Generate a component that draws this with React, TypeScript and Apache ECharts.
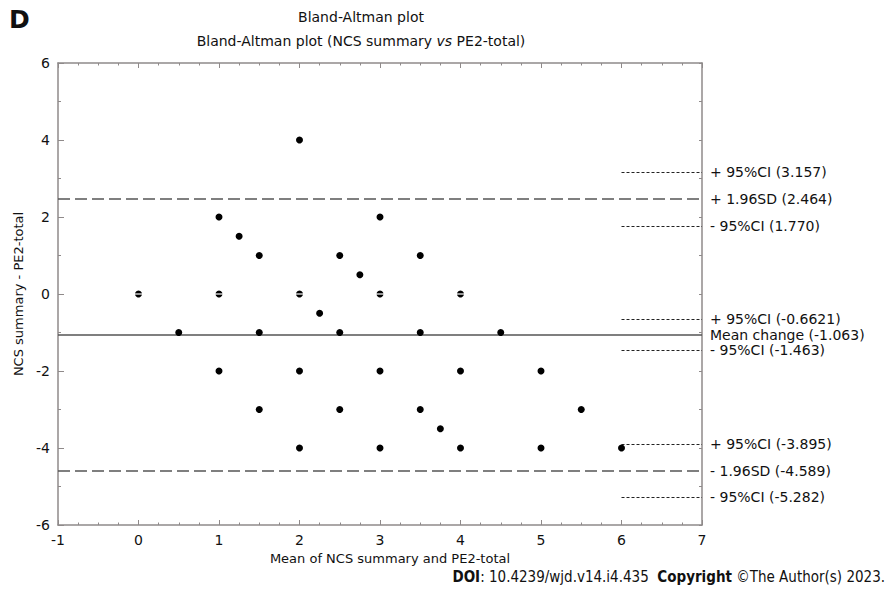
import React, { useEffect, useRef } from "react";
import * as echarts from "echarts";

// Mean of the two measures (x) and their difference (y)
const meanValues = [0, 0.5, 1, 1, 1, 1.25, 1.5, 1.5, 1.5, 2, 2, 2, 2, 2.25, 2.5, 2.5, 2.5, 2.75, 3, 3, 3, 3, 3.5, 3.5, 3.5, 3.75, 4, 4, 4, 4.5, 5, 5, 5.5, 6];
const diffValues = [0, -1, 2, 0, -2, 1.5, 1, -1, -3, 4, 0, -2, -4, -0.5, 1, -1, -3, 0.5, 2, 0, -2, -4, 1, -1, -3, -3.5, 0, -2, -4, -1, -2, -4, -3, -4];

const meanChange = -1.063;
const limitValues = [2.464, -4.589];
const limitLabels = ["+ 1.96SD (2.464)", "- 1.96SD (-4.589)"];
const ciValues = [3.157, 1.77, -0.6621, -1.463, -3.895, -5.282];
const ciLabels = ["+ 95%CI (3.157)", "- 95%CI (1.770)", "+ 95%CI (-0.6621)", "- 95%CI (-1.463)", "+ 95%CI (-3.895)", "- 95%CI (-5.282)"];
const meanLabel = "Mean change (-1.063)";

const xTicks = { min: -1, max: 7, interval: 1 };
const yTicks = { min: -6, max: 6, interval: 2 };

const FONT = "Tahoma, 'DejaVu Sans', sans-serif";
const AXIS_COLOR = "#8f8a8a";

export default function App() {
  const ref = useRef<HTMLDivElement>(null);
  useEffect(() => {
    if (!ref.current) return;
    const chart = echarts.init(ref.current, undefined, { renderer: "svg" });
    const points = meanValues.map((m, i) => [m, diffValues[i]]);
    const zeroPoints = points.filter((p) => p[1] === 0);
    const lblStyle = { color: "#111", fontFamily: FONT, fontSize: 14, position: "end" as const, distance: 8, padding: [0, 0, 5, 0] };

    const ciLines = ciValues.map((v, i) => [
      { coord: [6, v], label: { ...lblStyle, formatter: ciLabels[i] } },
      { coord: [7, v] },
    ]);
    const limitLines = limitValues.map((v, i) => [
      { coord: [xTicks.min, v], label: { ...lblStyle, formatter: limitLabels[i] } },
      { coord: [xTicks.max, v] },
    ]);

    const axisLine = { show: true, onZero: false, lineStyle: { color: AXIS_COLOR, width: 1.5 } };

    chart.setOption({
      animation: false,
      grid: { left: 58, right: 183, top: 63, bottom: 66 },
      xAxis: [
        {
          type: "value",
          min: xTicks.min,
          max: xTicks.max,
          interval: xTicks.interval,
          position: "bottom",
          name: "Mean of NCS summary and PE2-total",
          nameLocation: "middle",
          nameGap: 24,
          nameTextStyle: { color: "#111", fontFamily: FONT, fontSize: 13, padding: [0, 0, 0, 20] },
          axisLine,
          axisTick: { show: true, inside: true, length: 5, lineStyle: { color: AXIS_COLOR } },
          minorTick: { show: true, splitNumber: 4, length: 2.5, lineStyle: { color: AXIS_COLOR } },
          axisLabel: { color: "#111", fontFamily: FONT, fontSize: 14, margin: 8 },
          splitLine: { show: false },
          minorSplitLine: { show: false },
        },
        {
          type: "value",
          min: xTicks.min,
          max: xTicks.max,
          interval: xTicks.interval,
          position: "top",
          axisLine,
          axisTick: { show: true, inside: true, length: 5, lineStyle: { color: AXIS_COLOR } },
          minorTick: { show: true, splitNumber: 4, length: 2.5, lineStyle: { color: AXIS_COLOR } },
          axisLabel: { show: false },
          splitLine: { show: false },
        },
      ],
      yAxis: [
        {
          type: "value",
          min: yTicks.min,
          max: yTicks.max,
          interval: yTicks.interval,
          position: "left",
          name: "NCS summary - PE2-total",
          nameLocation: "middle",
          nameGap: 32,
          nameTextStyle: { color: "#111", fontFamily: FONT, fontSize: 13 },
          axisLine,
          axisTick: { show: true, inside: true, length: 6, lineStyle: { color: AXIS_COLOR } },
          minorTick: { show: true, splitNumber: 2, length: 3, lineStyle: { color: AXIS_COLOR } },
          axisLabel: { color: "#111", fontFamily: FONT, fontSize: 14, margin: 8 },
          splitLine: { show: false },
        },
        {
          type: "value",
          min: yTicks.min,
          max: yTicks.max,
          interval: yTicks.interval,
          position: "right",
          axisLine,
          axisTick: { show: true, inside: true, length: 3, lineStyle: { color: AXIS_COLOR } },
          minorTick: { show: true, splitNumber: 2, length: 3, lineStyle: { color: AXIS_COLOR } },
          axisLabel: { show: false },
          splitLine: { show: false },
        },
      ],
      series: [
        {
          type: "scatter",
          data: points,
          symbol: "circle",
          symbolSize: 7,
          itemStyle: { color: "#000", opacity: 1 },
          z: 5,
          markLine: {
            silent: true,
            symbol: "none",
            data: [
              ...limitLines,
              [
                { coord: [xTicks.min, meanChange], label: { ...lblStyle, formatter: meanLabel, padding: [0, 0, 8, 0] } },
                { coord: [xTicks.max, meanChange], lineStyle: { type: "solid" } },
              ],
            ],
            lineStyle: { color: "#555", width: 1.6, type: [12, 5] },
          },
        },
        {
          type: "scatter",
          data: zeroPoints,
          symbol: "rect",
          symbolSize: [8, 1.2],
          itemStyle: { color: "#fff", opacity: 1 },
          z: 6,
          markLine: {
            silent: true,
            symbol: "none",
            data: ciLines,
            lineStyle: { color: "#222", width: 1, type: [3, 2] },
          },
        },
      ],
      graphic: [
        { type: "text", left: 9, top: 7, style: { text: "D", font: "bold 25px 'DejaVu Sans', sans-serif", fill: "#111" } },
        { type: "text", x: 361, y: 17, style: { text: "Bland-Altman plot", font: `14px ${FONT}`, fill: "#111", textAlign: "center", textVerticalAlign: "middle" } },
        {
          type: "text",
          x: 361,
          y: 41,
          style: {
            text: "{n|Bland-Altman plot (NCS summary }{i|vs}{n| PE2-total)}",
            textAlign: "center",
            textVerticalAlign: "middle",
            fill: "#111",
            rich: {
              n: { fontFamily: FONT, fontSize: 14, fill: "#111" },
              i: { fontFamily: FONT, fontSize: 14, fontStyle: "italic", fill: "#111" },
            },
          },
        },
        {
          type: "text",
          x: 885,
          y: 577,
          style: {
            text: "{b|DOI}{n|: 10.4239/wjd.v14.i4.435  }{b|Copyright}{n| ©The Author(s) 2023.}",
            textAlign: "right",
            textVerticalAlign: "middle",
            rich: {
              n: { fontFamily: "'DejaVu Sans Condensed', 'DejaVu Sans', sans-serif", fontSize: 15, fill: "#111" },
              b: { fontFamily: "'DejaVu Sans Condensed', 'DejaVu Sans', sans-serif", fontSize: 15, fontWeight: "bold", fill: "#111" },
            },
          },
        },
      ],
    });
    return () => chart.dispose();
  }, []);
  return <div ref={ref} style={{ position: "fixed", left: 0, top: 0, width: 885, height: 591, background: "#fff" }} />;
}
